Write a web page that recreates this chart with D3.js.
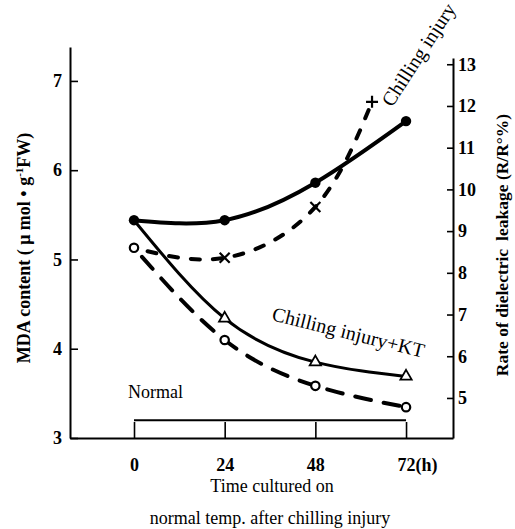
<!DOCTYPE html>
<html>
<head>
<meta charset="utf-8">
<script src="https://cdn.jsdelivr.net/npm/d3@7"></script>
<style>
  html, body { margin: 0; padding: 0; background: #fff; }
  svg { display: block; }
  text { font-family: "Liberation Serif", "Times New Roman", serif; fill: #000; }
</style>
</head>
<body>
<svg id="chart" width="515" height="529"></svg>
<script>
/* ── Data ────────────────────────────────────────────────────────── */
const TIMES          = [0, 24, 48, 72];            // h after chilling injury
const MDA_CHILL      = [5.44, 5.44, 5.86, 6.55];   // left axis, filled circles
const MDA_CHILL_KT   = [5.44, 4.34, 3.85, 3.69];   // left axis, triangles
const LEAK_TIMES     = [0, 24, 48, 63];            // last point plotted early
const LEAK_CHILL     = [8.60, 8.36, 9.58, 12.10];  // right axis, crosses
const LEAK_CHILL_KT  = [8.60, 6.39, 5.29, 4.78];   // right axis, open circles
const NORMAL         = [3.2, 3.2, 3.2, 3.2];       // left axis, flat line

const X_TICKS       = [0, 24, 48, 72];
const Y_LEFT_TICKS  = [3, 4, 5, 6, 7];
const Y_RIGHT_TICKS = [5, 6, 7, 8, 9, 10, 11, 12, 13];

/* ── Layout ──────────────────────────────────────────────────────── */
const AX_L = 70, AX_R = 453, AX_B = 438;   // axis lines
const TOP_L = 47, TOP_R = 58;              // top ends of the two y axes
const FONT = 18;

const svg = d3.select('#chart');

/* Scales: domains chosen so the axis lines span the frame */
const x  = d3.scaleLinear().domain([-16.94, 84.43]).range([AX_L, AX_R]);
const yL = d3.scaleLinear().domain([3, 7.38]).range([AX_B, TOP_L]);
const yR = d3.scaleLinear().domain([4.04, 13.15]).range([AX_B, TOP_R]);

const pts = (ts, vs) => d3.zip(ts, vs).map(([t, v]) => ({ t, v }));

/* ── Axes ────────────────────────────────────────────────────────── */
function styleAxis(g) {
  g.attr('font-family', null).attr('font-size', null);
  g.select('.domain').attr('stroke', '#000').attr('stroke-width', 2);
  g.selectAll('.tick line').attr('stroke', '#000').attr('stroke-width', 1.6);
  g.selectAll('.tick text')
    .attr('font-size', FONT)
    .attr('font-weight', 'bold');
}

svg.append('g')
  .attr('transform', `translate(${AX_L},0)`)
  .call(d3.axisLeft(yL).tickValues(Y_LEFT_TICKS).tickFormat(d3.format('d'))
        .tickSize(-8).tickSizeOuter(0).tickPadding(8))
  .call(styleAxis);

svg.append('g')
  .attr('transform', `translate(${AX_R},0)`)
  .call(d3.axisRight(yR).tickValues(Y_RIGHT_TICKS).tickFormat(d3.format('d'))
        .tickSize(-6).tickSizeOuter(0).tickPadding(5))
  .call(styleAxis);

const gx = svg.append('g')
  .attr('transform', `translate(0,${AX_B})`)
  .call(d3.axisBottom(x).tickValues(X_TICKS).tickSize(-16).tickSizeOuter(0).tickPadding(20)
        .tickFormat(d => d === 72 ? '72(h)' : d))
  .call(styleAxis);
// keep "72" centred on its tick, with "(h)" trailing
gx.selectAll('.tick text').filter(d => d === 72)
  .attr('text-anchor', 'start').attr('x', -9);

/* ── Lines ───────────────────────────────────────────────────────── */
const lineL = d3.line().x(d => x(d.t)).y(d => yL(d.v)).curve(d3.curveNatural);
const lineR = d3.line().x(d => x(d.t)).y(d => yR(d.v)).curve(d3.curveNatural);

svg.append('path')
  .attr('d', d3.line().x(d => x(d.t)).y(d => yL(d.v))(pts(TIMES, NORMAL)))
  .attr('fill', 'none').attr('stroke', '#000').attr('stroke-width', 2);

svg.append('path')
  .attr('d', lineR(pts(LEAK_TIMES, LEAK_CHILL)))
  .attr('fill', 'none').attr('stroke', '#000').attr('stroke-width', 4)
  .attr('stroke-linecap', 'round').attr('stroke-dasharray', '9 13')
  .attr('stroke-dashoffset', -14);

svg.append('path')
  .attr('d', lineR(pts(TIMES, LEAK_CHILL_KT)))
  .attr('fill', 'none').attr('stroke', '#000').attr('stroke-width', 4)
  .attr('stroke-linecap', 'round').attr('stroke-dasharray', '16 13')
  .attr('stroke-dashoffset', -12);

svg.append('path')
  .attr('d', lineL(pts(TIMES, MDA_CHILL_KT)))
  .attr('fill', 'none').attr('stroke', '#000').attr('stroke-width', 3);

svg.append('path')
  .attr('d', lineL(pts(TIMES, MDA_CHILL)))
  .attr('fill', 'none').attr('stroke', '#000').attr('stroke-width', 4);

/* ── Markers ─────────────────────────────────────────────────────── */
const tri = d3.symbol(d3.symbolTriangle, 55)();
const CROSS_X    = 'M-5,-5L5,5M-5,5L5,-5';
const CROSS_PLUS = 'M-6,0H6M0,-6V6';

// filled circles
svg.append('g').selectAll('circle')
  .data(pts(TIMES, MDA_CHILL)).join('circle')
  .attr('cx', d => x(d.t)).attr('cy', d => yL(d.v)).attr('r', 5.2)
  .attr('fill', '#000');

// open triangles (first point shared with filled circle)
svg.append('g').selectAll('path')
  .data(pts(TIMES, MDA_CHILL_KT).slice(1)).join('path')
  .attr('d', tri)
  .attr('transform', d => `translate(${x(d.t)},${yL(d.v)})`)
  .attr('fill', '#fff').attr('stroke', '#000').attr('stroke-width', 1.8);

// open circles
svg.append('g').selectAll('circle')
  .data(pts(TIMES, LEAK_CHILL_KT)).join('circle')
  .attr('cx', d => x(d.t)).attr('cy', d => yR(d.v)).attr('r', 4.2)
  .attr('fill', '#fff').attr('stroke', '#000').attr('stroke-width', 2.2);

// crosses (first point shared with open circle)
svg.append('g').selectAll('path')
  .data(pts(LEAK_TIMES, LEAK_CHILL).slice(1)).join('path')
  .attr('d', (d, i, n) => i === n.length - 1 ? CROSS_PLUS : CROSS_X)
  .attr('transform', d => `translate(${x(d.t)},${yR(d.v)})`)
  .attr('fill', 'none').attr('stroke', '#000').attr('stroke-width', 2.2);

/* ── Labels ──────────────────────────────────────────────────────── */
svg.append('text')
  .attr('transform', 'translate(392,108) rotate(-57)')
  .attr('font-size', 20)
  .text('Chilling injury');

svg.append('text')
  .attr('transform', 'translate(271,320) rotate(14)')
  .attr('font-size', 20)
  .text('Chilling injury+KT');

svg.append('text')
  .attr('x', 128).attr('y', 398)
  .attr('font-size', FONT)
  .text('Normal');

svg.append('text')
  .attr('x', 272).attr('y', 492)
  .attr('text-anchor', 'middle').attr('font-size', FONT)
  .text('Time cultured on');

svg.append('text')
  .attr('x', 270).attr('y', 524)
  .attr('text-anchor', 'middle').attr('font-size', FONT)
  .text('normal temp. after chilling injury');

const tL = svg.append('text')
  .attr('transform', 'translate(30,248) rotate(-90)')
  .attr('text-anchor', 'middle').attr('font-size', FONT).attr('font-weight', 'bold');
tL.append('tspan').text('MDA content ( μ mol • g');
tL.append('tspan').attr('font-size', 11).attr('dy', -7).text('-1');
tL.append('tspan').attr('dy', 7).text('FW)');

const tR = svg.append('text')
  .attr('transform', 'translate(508,245) rotate(-90)')
  .attr('text-anchor', 'middle').attr('font-size', 17.5).attr('font-weight', 'bold');
tR.append('tspan').text('Rate of dielectric');
tR.append('tspan').attr('dx', 8).text('leakage (R/R°%)');
</script>
</body>
</html>
